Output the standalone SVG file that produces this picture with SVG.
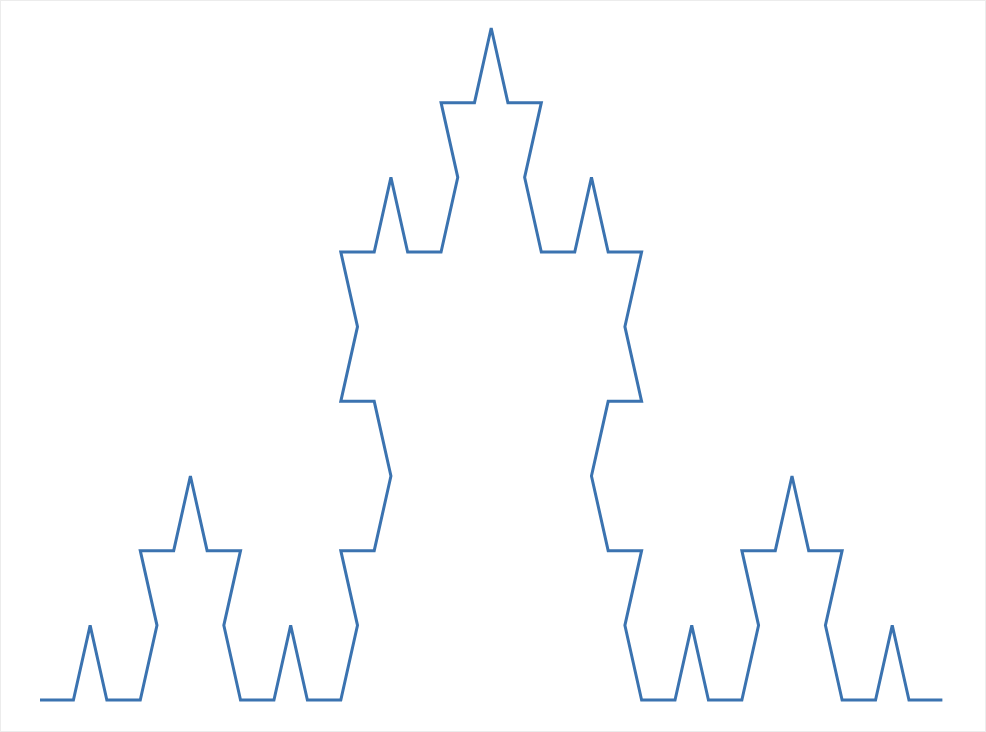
<svg xmlns="http://www.w3.org/2000/svg" width="986" height="732" viewBox="0 0 986 732">
<style>
.curve{fill:none;stroke:#3b73b0;stroke-width:3;stroke-linejoin:miter;stroke-linecap:butt}
</style>
<rect width="986" height="732" fill="#ffffff"/>
<rect x="0.5" y="0.5" width="985" height="731" fill="none" stroke="#ececec" stroke-width="1"/>
<g id="connectors">
<polyline id="curve" class="curve" points="40,700 73.42,700 90.13,625.33 106.84,700 140.27,700 156.98,625.33 140.27,550.67 173.69,550.67 190.4,476 207.11,550.67 240.53,550.67 223.82,625.33 240.53,700 273.95,700 290.67,625.33 307.38,700 340.8,700 357.51,625.33 340.8,550.67 374.22,550.67 390.93,476 374.22,401.33 340.8,401.33 357.51,326.67 340.8,252 374.22,252 390.93,177.33 407.64,252 441.06,252 457.78,177.33 441.06,102.67 474.49,102.67 491.2,28 507.91,102.67 541.33,102.67 524.62,177.33 541.33,252 574.75,252 591.46,177.33 608.17,252 641.6,252 624.89,326.67 641.6,401.33 608.17,401.33 591.46,476 608.17,550.67 641.6,550.67 624.89,625.33 641.6,700 675.02,700 691.73,625.33 708.44,700 741.86,700 758.57,625.33 741.86,550.67 775.28,550.67 792,476 808.71,550.67 842.13,550.67 825.42,625.33 842.13,700 875.55,700 892.26,625.33 908.97,700 942.39,700"/>
</g>
</svg>
